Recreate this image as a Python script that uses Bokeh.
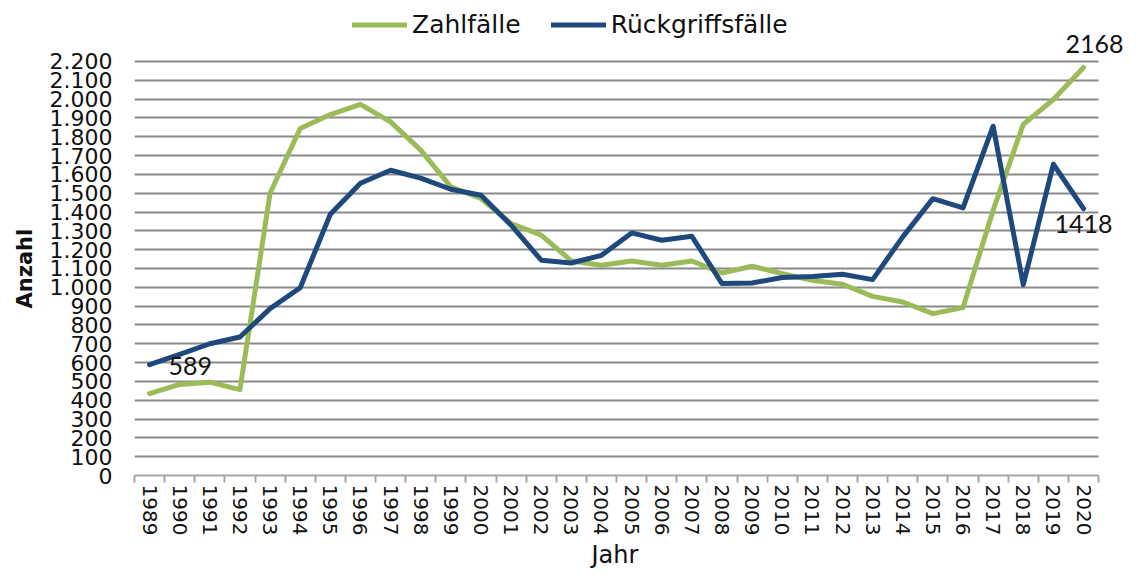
from bokeh.plotting import figure
from bokeh.models import (Range1d, FixedTicker, Legend, LegendItem, Label, Title)
from bokeh.embed import file_html
from bokeh.resources import INLINE

years = list(range(1989, 2021))
zahlfaelle = [435, 484, 496, 456, 1500, 1844, 1918, 1972, 1879, 1729,
              1534, 1472, 1339, 1277, 1140, 1117, 1140, 1117, 1140, 1076,
              1112, 1073, 1037, 1016, 952, 922, 860, 892, 1410, 1866,
              1998, 2168]
rueckgriffsfaelle = [589, 643, 700, 736, 887, 998, 1388, 1553, 1622, 1580,
                     1521, 1489, 1330, 1144, 1129, 1170, 1289, 1250, 1271, 1020,
                     1023, 1052, 1058, 1069, 1041, 1268, 1471, 1422, 1856, 1014,
                     1654, 1418]
y_ticks = list(range(0, 2201, 100))
series_names = ["Zahlfälle", "Rückgriffsfälle"]
colors = ["#9BBB59", "#1F497D"]
x_title = "Jahr"
y_title = "Anzahl"

FONT = "DejaVu Sans"
LFONT = "Lato"
TXT = "#111111"

x_lo, x_hi = years[0] - 0.5, years[-1] + 0.5

p = figure(width=1124, height=568, output_backend="svg", toolbar_location=None,
           x_range=Range1d(x_lo, 2021.36),
           y_range=Range1d(0, 2524),
           min_border_left=130, min_border_right=0, min_border_top=0,
           min_border_bottom=93)
p.outline_line_color = None
p.background_fill_color = "white"

# grid
p.xgrid.grid_line_color = None
p.ygrid.ticker = FixedTicker(ticks=y_ticks)
p.ygrid.grid_line_color = "#8a8a8a"
p.ygrid.grid_line_width = 2
p.ygrid.cross_bounds = (x_lo, x_hi)

# y axis
p.yaxis.ticker = FixedTicker(ticks=y_ticks)
p.yaxis.major_label_overrides = {v: f"{v:,}".replace(",", ".") for v in y_ticks}
p.yaxis.axis_line_color = None
p.yaxis.major_tick_line_color = None
p.yaxis.major_tick_out = 0
p.yaxis.minor_tick_line_color = None
p.yaxis.major_label_standoff = 22
p.yaxis.major_label_text_font = FONT
p.yaxis.major_label_text_font_size = "22px"
p.yaxis.major_label_text_color = TXT

# x axis
p.xaxis.ticker = FixedTicker(ticks=years,
                             minor_ticks=[y - 0.5 for y in years] + [x_hi])
p.xaxis.bounds = (x_lo, x_hi)
p.xaxis.major_label_orientation = "vertical"
p.xaxis.axis_line_color = "#a6a6a6"
p.xaxis.axis_line_width = 2
p.xaxis.major_tick_line_color = None
p.xaxis.major_tick_out = 0
p.xaxis.major_tick_in = 0
p.xaxis.minor_tick_line_color = "#a6a6a6"
p.xaxis.minor_tick_line_width = 2
p.xaxis.minor_tick_in = 0
p.xaxis.minor_tick_out = 7
p.xaxis.major_label_standoff = 2
p.xaxis.major_label_text_font = FONT
p.xaxis.major_label_text_font_size = "20px"
p.xaxis.major_label_text_color = TXT

# axis titles as side titles (allow offset like the reference)
p.add_layout(Title(text=y_title, align="left", offset=167, standoff=20,
                   text_font=FONT, text_font_size="21px", text_font_style="bold",
                   text_color=TXT), "left")
p.add_layout(Title(text=x_title, align="left", offset=457, standoff=0,
                   text_font=FONT, text_font_size="24px", text_font_style="normal",
                   text_color=TXT), "below")

r1 = p.line(years, zahlfaelle, line_color=colors[0], line_width=5, line_join="round",
            line_cap="round")
r2 = p.line(years, rueckgriffsfaelle, line_color=colors[1], line_width=5,
            line_join="round", line_cap="round")

legend = Legend(items=[LegendItem(label=series_names[0], renderers=[r1]),
                       LegendItem(label=series_names[1], renderers=[r2])],
                orientation="horizontal", location=(218, 436),
                label_text_font=FONT, label_text_font_size="25px",
                label_text_color=TXT, label_height=29,
                glyph_width=55, glyph_height=29, label_standoff=5, spacing=30,
                border_line_color=None, background_fill_alpha=0,
                padding=0, margin=0)
p.add_layout(legend)

lbl_font_size = "25px"
p.add_layout(Label(x=years[0], y=rueckgriffsfaelle[0], text=str(rueckgriffsfaelle[0]),
                   x_offset=19, y_offset=-1, text_align="left", text_baseline="middle",
                   text_font=LFONT, text_font_size=lbl_font_size, text_color=TXT))
p.add_layout(Label(x=years[-1], y=zahlfaelle[-1], text=str(zahlfaelle[-1]),
                   x_offset=11, y_offset=23, text_align="center", text_baseline="middle",
                   text_font=LFONT, text_font_size=lbl_font_size, text_color=TXT))
p.add_layout(Label(x=years[-1], y=rueckgriffsfaelle[-1], text=str(rueckgriffsfaelle[-1]),
                   x_offset=0, y_offset=-15, text_align="center", text_baseline="middle",
                   text_font=LFONT, text_font_size=lbl_font_size, text_color=TXT))

open("out.html", "w").write(file_html(p, INLINE))
